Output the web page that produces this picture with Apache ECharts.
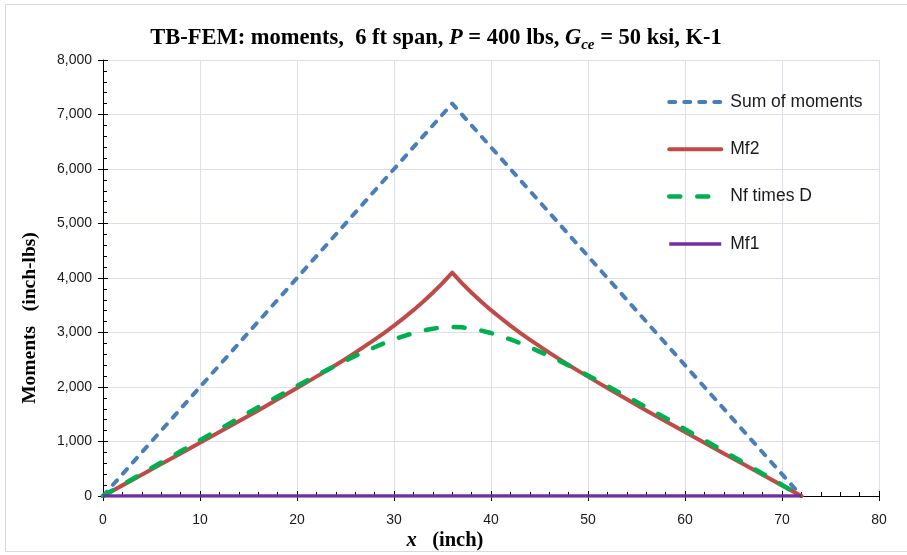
<!DOCTYPE html>
<html>
<head>
<meta charset="utf-8">
<script src="https://cdn.jsdelivr.net/npm/echarts@6/dist/echarts.min.js"></script>
<style>
  html, body { margin: 0; padding: 0; background: #fff; }
  #chart { width: 907px; height: 555px; }
</style>
</head>
<body>
<div id="chart"></div>
<script>
// Position along the span (inch)
const xs = [0, 2, 4, 6, 8, 10, 12, 14, 16, 18,
  20, 21, 22, 23, 24, 25, 26, 27, 28, 29, 30, 31, 32, 33, 34, 35, 36,
  37, 38, 39, 40, 41, 42, 43, 44, 45, 46, 47, 48, 49, 50, 51, 52,
  54, 56, 58, 60, 62, 64, 66, 68, 70, 72];

// Facing moment Mf2 (inch-lbs)
const mf2 = [0, 195, 390, 585, 780, 975, 1175, 1370, 1570, 1775,
  1980, 2085, 2190, 2295, 2405, 2515, 2630, 2750, 2870, 2995, 3125, 3265, 3410, 3565, 3730, 3905, 4100,
  3905, 3730, 3565, 3410, 3265, 3125, 2995, 2870, 2750, 2630, 2515, 2405, 2295, 2190, 2085, 1980,
  1775, 1570, 1370, 1175, 975, 780, 585, 390, 195, 0];

// Facing force times lever arm, Nf x D (inch-lbs)
const nfD = [0, 205, 410, 615, 820, 1025, 1225, 1430, 1630, 1825,
  2020, 2115, 2210, 2305, 2395, 2485, 2570, 2650, 2730, 2805, 2875, 2935, 2990, 3035, 3070, 3095, 3100,
  3095, 3070, 3035, 2990, 2935, 2875, 2805, 2730, 2650, 2570, 2485, 2395, 2305, 2210, 2115, 2020,
  1825, 1630, 1430, 1225, 1025, 820, 615, 410, 205, 0];

// Total bending moment (three-point load, P = 400 lbs)
const sumX = [0, 36, 72];
const sumM = [0, 7200, 0];

// Facing moment Mf1 (negligible)
const mf1X = [0, 72];
const mf1M = [0, 0];

const seriesNames = ['Sum of moments', 'Mf2', 'Nf times D', 'Mf1'];

// Axis ranges and tick spacing
const xRange = [0, 80], xStep = 10;
const yRange = [0, 8000], yStep = 1000;

const pairs = (a, b) => a.map((v, i) => [v, b[i]]);

const serifBold = { fontFamily: 'Liberation Serif', fontWeight: 'bold', color: '#000' };
const gridColor = '#E0DDEA';
const tickColor = '#000';

// Line looks shared by the plotted series and their legend keys
const styles = {
  sum: { color: '#4A7EBB', width: 4, type: [6, 9], cap: 'round', join: 'round' },
  mf2: { color: '#BE4B48', width: 4, type: 'solid', cap: 'round', join: 'round' },
  nfD: { color: '#00B050', width: 4.5, type: [11, 17], cap: 'round', join: 'round' },
  mf1: { color: '#7030A0', width: 3.5, type: 'solid', cap: 'butt', join: 'round' }
};
const styleList = [styles.sum, styles.mf2, styles.nfD, styles.mf1];

const chart = echarts.init(document.getElementById('chart'), null, { renderer: 'canvas' });

chart.setOption({
  backgroundColor: '#fff',
  animation: false,
  grid: { left: 103, right: 28, top: 60, bottom: 59, containLabel: false },
  graphic: [
    {
      type: 'rect', silent: true, z: -10,
      shape: { x: 5.5, y: 4.5, width: 905, height: 547 },
      style: { fill: 'none', stroke: '#D9D9D9', lineWidth: 1 }
    },
    {
      type: 'text', x: 436, y: 38,
      style: {
        text: '{b|TB-FEM: moments,  6 ft span, }{i|P}{b| = 400 lbs, }{i|G}{s|ce}{b| = 50 ksi, K-1}',
        align: 'center', verticalAlign: 'middle',
        rich: {
          b: Object.assign({ fontSize: 22.5, lineHeight: 30, verticalAlign: 'middle' }, serifBold),
          i: Object.assign({ fontSize: 22.5, lineHeight: 30, fontStyle: 'italic', verticalAlign: 'middle' }, serifBold),
          s: Object.assign({ fontSize: 15, lineHeight: 15, fontStyle: 'italic', verticalAlign: 'bottom' }, serifBold)
        }
      }
    },
    {
      type: 'text', x: 30, y: 318, rotation: Math.PI / 2,
      style: Object.assign({
        text: 'Moments   (inch-lbs)', fontSize: 19.5, align: 'center', verticalAlign: 'middle'
      }, serifBold)
    },
    {
      type: 'text', x: 445, y: 541,
      style: {
        text: '{i|x}{b|   (inch)}',
        align: 'center', verticalAlign: 'middle',
        rich: {
          b: Object.assign({ fontSize: 20.5 }, serifBold),
          i: Object.assign({ fontSize: 20.5, fontStyle: 'italic' }, serifBold)
        }
      }
    }
  ],
  legend: {
    orient: 'vertical',
    left: 667,
    top: 93,
    padding: 0,
    itemWidth: 52,
    itemHeight: 14,
    itemGap: 29.3,
    itemStyle: { opacity: 0 },
    data: seriesNames.map((name, i) => ({
      name: name,
      itemStyle: { opacity: 0 },
      lineStyle: Object.assign({}, styleList[i])
    })),
    textStyle: {
      fontFamily: 'Liberation Sans', fontSize: 17.5, color: '#1a1a1a',
      padding: [0, 0, 0, 4]
    }
  },
  xAxis: [
    {
      type: 'value', position: 'bottom',
      min: xRange[0], max: xRange[1], interval: xStep,
      axisLine: { show: true, onZero: false, lineStyle: { color: tickColor, width: 1 } },
      axisTick: { show: true, inside: false, length: 5, lineStyle: { color: tickColor } },
      axisLabel: { margin: 17, fontFamily: 'Liberation Sans', fontSize: 14, color: '#1a1a1a' },
      splitLine: { show: true, lineStyle: { color: gridColor, width: 1 } }
    },
    {
      type: 'value', position: 'bottom',
      min: xRange[0], max: xRange[1], interval: xStep,
      axisLine: { show: false },
      axisTick: { show: true, inside: true, length: 5, lineStyle: { color: tickColor } },
      minorTick: { show: true, splitNumber: 5, length: 4, lineStyle: { color: tickColor } },
      axisLabel: { show: false },
      splitLine: { show: false }
    }
  ],
  yAxis: [
    {
      type: 'value', position: 'left',
      min: yRange[0], max: yRange[1], interval: yStep,
      axisLine: { show: true, onZero: false, lineStyle: { color: tickColor, width: 1 } },
      axisTick: { show: true, inside: false, length: 5, lineStyle: { color: tickColor } },
      axisLabel: {
        margin: 11, fontFamily: 'Liberation Sans', fontSize: 14, color: '#1a1a1a',
        formatter: v => v.toLocaleString('en-US')
      },
      splitLine: { show: true, lineStyle: { color: gridColor, width: 1 } }
    },
    {
      type: 'value', position: 'left',
      min: yRange[0], max: yRange[1], interval: yStep,
      axisLine: { show: false },
      axisTick: { show: true, inside: true, length: 5, lineStyle: { color: tickColor } },
      minorTick: { show: true, splitNumber: 5, length: 4, lineStyle: { color: tickColor } },
      axisLabel: { show: false },
      splitLine: { show: false }
    }
  ],
  series: [
    {
      name: seriesNames[0], type: 'line', xAxisIndex: 0, yAxisIndex: 0,
      data: pairs(sumX, sumM), symbol: 'none', z: 3,
      lineStyle: styles.sum, itemStyle: { color: styles.sum.color }
    },
    {
      name: seriesNames[1], type: 'line', xAxisIndex: 0, yAxisIndex: 0,
      data: pairs(xs, mf2), symbol: 'none', z: 4,
      lineStyle: styles.mf2, itemStyle: { color: styles.mf2.color }
    },
    {
      name: seriesNames[2], type: 'line', xAxisIndex: 0, yAxisIndex: 0,
      data: pairs(xs, nfD), symbol: 'none', z: 5,
      lineStyle: styles.nfD, itemStyle: { color: styles.nfD.color }
    },
    {
      name: seriesNames[3], type: 'line', xAxisIndex: 0, yAxisIndex: 0,
      data: pairs(mf1X, mf1M), symbol: 'none', z: 6,
      lineStyle: styles.mf1, itemStyle: { color: styles.mf1.color }
    }
  ]
});
</script>
</body>
</html>
